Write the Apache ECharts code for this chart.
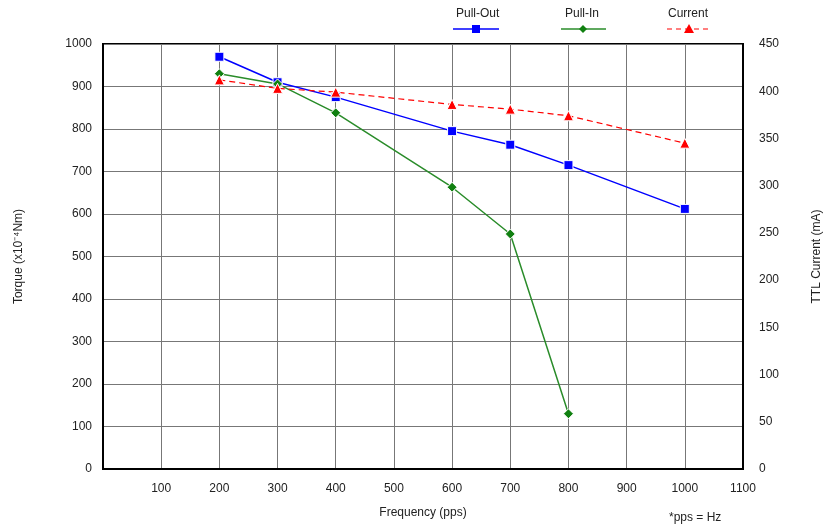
<!DOCTYPE html>
<html><head><meta charset="utf-8">
<script src="https://cdn.jsdelivr.net/npm/echarts@6/dist/echarts.min.js"></script>
<style>html,body{margin:0;padding:0;background:#fff}#c{width:825px;height:531px}</style>
</head><body><div id="c"></div>
<script>
const freq = [200, 300, 400, 600, 700, 800, 1000];
const pullOut = [970, 910, 875, 795, 763, 715, 612];
const pullInFreq = [200, 300, 400, 600, 700, 800];
const pullIn = [930, 906, 838, 663, 553, 130];
const current = [412, 403, 399, 386, 381, 374, 345];
const xTicks = [100, 200, 300, 400, 500, 600, 700, 800, 900, 1000, 1100];

const font = 'Liberation Sans, Arial, sans-serif';
const chart = echarts.init(document.getElementById('c'));
const zip = (a, b) => a.map((v, i) => [v, b[i]]);

chart.setOption({
  animation: false,
  grid: {left: 103, right: 82, top: 44, bottom: 62, show: true, borderColor: '#000', borderWidth: 2,
    containLabel: false, outerBoundsMode: 'none'},
  xAxis: {
    type: 'value', min: 0, max: 1100, interval: 100,
    name: 'Frequency (pps)', nameLocation: 'middle', nameGap: 38,
    nameTextStyle: {fontFamily: font, fontSize: 12, color: '#222'},
    axisLine: {show: true, lineStyle: {color: '#000', width: 2}},
    axisTick: {show: false},
    axisLabel: {margin: 14, fontFamily: font, fontSize: 12, color: '#222',
      formatter: v => xTicks.indexOf(v) >= 0 ? String(v) : ''},
    splitLine: {show: true, lineStyle: {color: '#777', width: 1}}
  },
  yAxis: [{
    type: 'value', min: 0, max: 1000, interval: 100,
    name: 'Torque (x10⁻⁴Nm)', nameLocation: 'middle', nameGap: 78, nameRotate: 90,
    nameTextStyle: {fontFamily: font, fontSize: 12, color: '#222'},
    axisLine: {show: true, lineStyle: {color: '#000', width: 2}},
    axisTick: {show: false},
    axisLabel: {margin: 11, fontFamily: font, fontSize: 12, color: '#222', formatter: v => String(v)},
    splitLine: {show: true, lineStyle: {color: '#777', width: 1}}
  }, {
    type: 'value', min: 0, max: 450, interval: 50, position: 'right',
    name: 'TTL Current (mA)', nameLocation: 'middle', nameGap: 68, nameRotate: 90,
    nameTextStyle: {fontFamily: font, fontSize: 12, color: '#222'},
    axisLine: {show: true, lineStyle: {color: '#000', width: 2}},
    axisTick: {show: false},
    axisLabel: {margin: 16, fontFamily: font, fontSize: 12, color: '#222', formatter: v => String(v)},
    splitLine: {show: false}
  }],
  series: [{
    name: 'Pull-Out', type: 'line', data: zip(freq, pullOut), yAxisIndex: 0,
    symbol: 'rect', symbolSize: 9,
    lineStyle: {color: '#0000ff', width: 1.5},
    itemStyle: {color: '#0000ff', borderColor: '#fff', borderWidth: 1}
  }, {
    name: 'Pull-In', type: 'line', data: zip(pullInFreq, pullIn), yAxisIndex: 0,
    symbol: 'diamond', symbolSize: 10,
    lineStyle: {color: '#2a8c2a', width: 1.5},
    itemStyle: {color: '#108010', borderColor: '#fff', borderWidth: 1}
  }, {
    name: 'Current', type: 'line', data: zip(freq, current), yAxisIndex: 1,
    symbol: 'triangle', symbolSize: 10,
    lineStyle: {color: '#ff0000', width: 1.2, type: [6, 4]},
    itemStyle: {color: '#ff0000', borderColor: '#fff', borderWidth: 1}
  }],
  graphic: [
    {type: 'text', left: 456, top: 8, style: {text: 'Pull-Out', font: '12px ' + font, fill: '#222'}},
    {type: 'line', shape: {x1: 453, y1: 29, x2: 499, y2: 29}, style: {stroke: '#0000ff', lineWidth: 1.5}},
    {type: 'rect', shape: {x: 472, y: 25, width: 8, height: 8}, style: {fill: '#0000ff'}},
    {type: 'text', left: 565, top: 8, style: {text: 'Pull-In', font: '12px ' + font, fill: '#222'}},
    {type: 'line', shape: {x1: 561, y1: 29, x2: 606, y2: 29}, style: {stroke: '#2a8c2a', lineWidth: 1.5}},
    {type: 'polygon', shape: {points: [[583, 25], [587, 29], [583, 33], [579, 29]]}, style: {fill: '#108010'}},
    {type: 'text', left: 668, top: 8, style: {text: 'Current', font: '12px ' + font, fill: '#222'}},
    {type: 'line', shape: {x1: 667, y1: 29, x2: 712, y2: 29}, style: {stroke: '#ff0000', lineWidth: 1.2, lineDash: [5, 4]}},
    {type: 'polygon', shape: {points: [[689, 24], [694, 33], [684, 33]]}, style: {fill: '#ff0000'}},
    {type: 'text', left: 669, top: 512, style: {text: '*pps = Hz', font: '12px ' + font, fill: '#222'}}
  ]
});
</script></body></html>
